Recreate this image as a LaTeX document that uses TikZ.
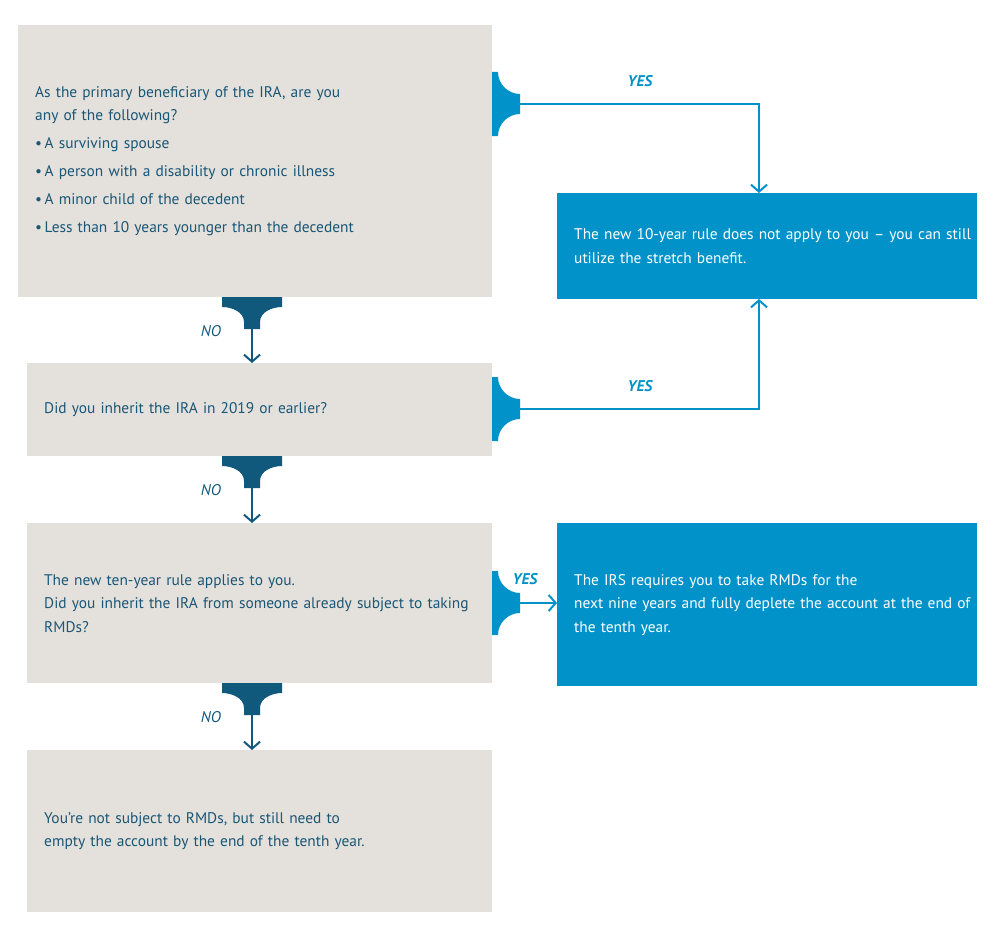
\documentclass[tikz,border=0pt]{standalone}
\usepackage{fontspec}
\setmainfont{PT Sans}
\usetikzlibrary{arrows.meta}
\definecolor{boxgray}{RGB}{228,225,220}
\definecolor{boxblue}{RGB}{0,146,200}
\definecolor{darkteal}{RGB}{16,88,124}
\definecolor{txtteal}{RGB}{26,86,118}
\tikzset{
  graybox/.style={draw=none,fill=boxgray,anchor=north west,inner xsep=17pt,inner ysep=0pt,align=left,text=txtteal,font=\fontsize{15.4}{23.5}\selectfont},
  bluebox/.style={draw=none,fill=boxblue,anchor=north west,inner xsep=17pt,inner ysep=0pt,align=left,text=white,font=\fontsize{15.4}{23.5}\selectfont},
  yesline/.style={draw=boxblue,line width=2pt,-{Straight Barb[length=7pt,width=16pt,line width=2pt]}},
  noline/.style={draw=darkteal,line width=2pt,-{Straight Barb[length=7pt,width=16pt,line width=2pt]}},
  yeslbl/.style={text=boxblue,font=\fontsize{15.5}{16}\selectfont\bfseries\itshape},
  nolbl/.style={text=darkteal,font=\fontsize{15.5}{16}\selectfont\itshape},
  rtab/.pic={\fill[boxblue] (0,-32) -- (6,-32) .. controls (6,-20) and (16,-10) .. (28,-10) -- (28,10) .. controls (16,10) and (6,20) .. (6,32) -- (0,32) -- cycle;},
  dtab/.pic={\fill[darkteal] (-30,0) -- (30,0) -- (30,10) .. controls (20,10) and (8,15) .. (8,25) -- (8,32) -- (-8,32) -- (-8,25) .. controls (-8,15) and (-20,10) .. (-30,10) -- cycle;}
}
\begin{document}
\begin{tikzpicture}[x=1pt,y=-1pt]
\useasboundingbox (0,0) rectangle (1000,939);
% boxes
\node[graybox,text width=440pt,minimum height=272pt] (A) at (18,25) {As the primary beneficiary of the IRA, are you\\any of the following?\\[4.5pt]\textbullet\,A surviving spouse\\[4.5pt]\textbullet\,A person with a disability or chronic illness\\[4.5pt]\textbullet\,A minor child of the decedent\\[4.5pt]\textbullet\,Less than 10 years younger than the decedent};
\node[bluebox,text width=386pt,minimum height=106pt] (B) at (557,193) {\mbox{The new 10-year rule does not apply to you -- you can still}\\\mbox{utilize the stretch benefit.}};
\node[graybox,text width=431pt,minimum height=93pt] (C) at (27,363) {Did you inherit the IRA in 2019 or earlier?};
\node[graybox,text width=431pt,minimum height=160pt] (D) at (27,523) {The new ten-year rule applies to you.\\Did you inherit the IRA from someone already subject to taking\\RMDs?};
\node[bluebox,text width=386pt,minimum height=163pt] (E) at (557,523) {\mbox{The IRS requires you to take RMDs for the}\\\mbox{next nine years and fully deplete the account at the end of}\\\mbox{the tenth year.}};
\node[graybox,text width=431pt,minimum height=162pt] (F) at (27,750) {You’re not subject to RMDs, but still need to\\empty the account by the end of the tenth year.};
% tabs
\pic at (492,104) {rtab};
\pic at (492,409) {rtab};
\pic at (492,603) {rtab};
\pic at (252,297) {dtab};
\pic at (252,456) {dtab};
\pic at (252,683) {dtab};
% connector end points
\coordinate (a1) at (520,104);
\coordinate (c1) at (520,409);
\coordinate (d1) at (520,603);
\coordinate (bt) at (759,193);
\coordinate (bb) at (759,299);
\coordinate (an) at (252,329);
\coordinate (cn) at (252,488);
\coordinate (dn) at (252,715);
% connectors
\draw[yesline] (a1) -| (bt);
\draw[yesline] (c1) -| (bb);
\draw[yesline] (d1) -- (E.west |- d1);
\draw[noline] (an) -- (C.north -| an);
\draw[noline] (cn) -- (D.north -| cn);
\draw[noline] (dn) -- (F.north -| dn);
% labels
\node[yeslbl] (y1) at (640,81) {YES};
\node[yeslbl] (y2) at (640,386) {YES};
\node[yeslbl] (y3) at (525,579) {YES};
\node[nolbl] (n1) at (211,331) {NO};
\node[nolbl] (n2) at (211,490) {NO};
\node[nolbl] (n3) at (211,717) {NO};
\end{tikzpicture}
\end{document}
